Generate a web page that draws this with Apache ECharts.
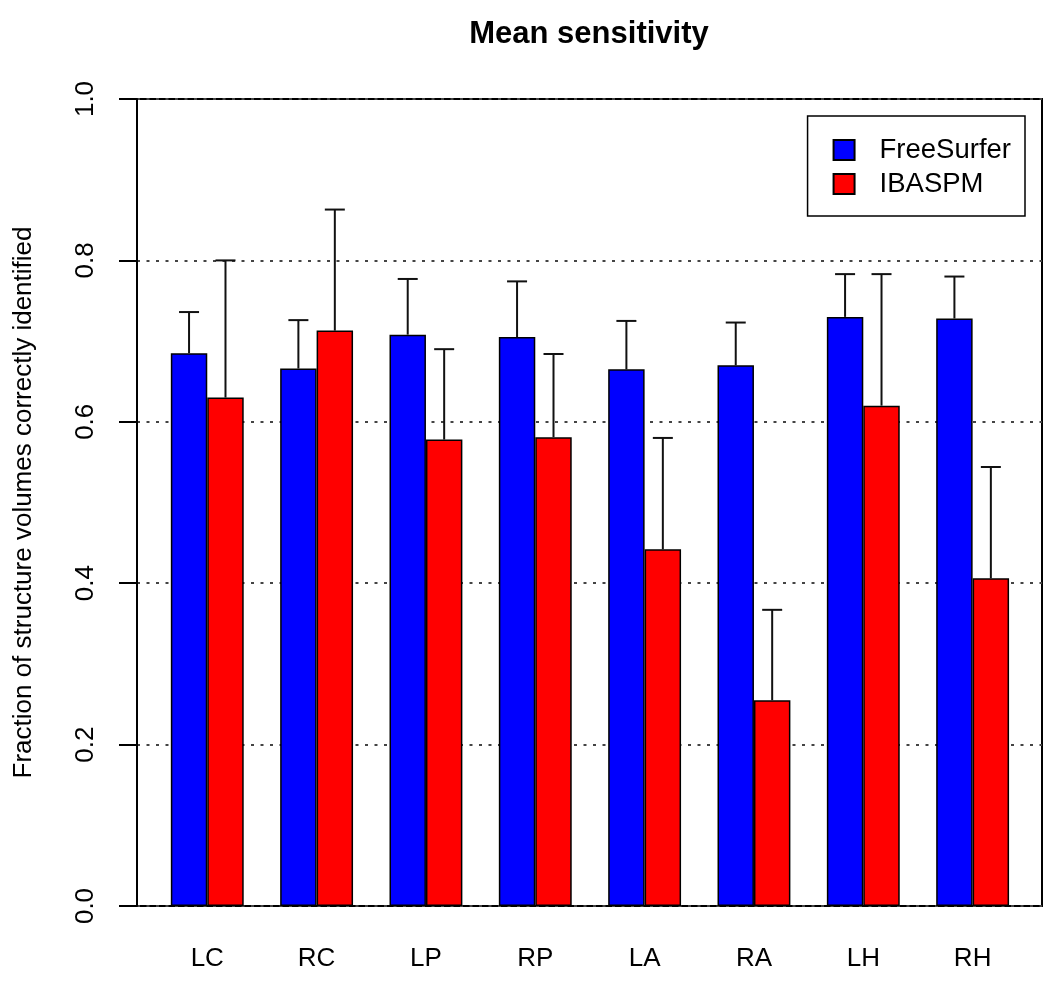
<!DOCTYPE html>
<html>
<head>
<meta charset="utf-8">
<script src="https://cdn.jsdelivr.net/npm/echarts@6/dist/echarts.min.js"></script>
<style>
  html, body { margin: 0; padding: 0; background: #fff; }
  #chart { width: 1050px; height: 999px; }
</style>
</head>
<body>
<div id="chart"></div>
<script>
// structures
const categories = ["LC", "RC", "LP", "RP", "LA", "RA", "LH", "RH"];
// mean fraction correctly identified
const freeSurfer = [0.685, 0.666, 0.708, 0.705, 0.665, 0.670, 0.730, 0.728];
const ibaspm = [0.630, 0.713, 0.578, 0.581, 0.442, 0.255, 0.620, 0.406];
// standard deviation (drawn upward only)
const freeSurferSd = [0.051, 0.060, 0.069, 0.069, 0.060, 0.053, 0.053, 0.052];
const ibaspmSd = [0.170, 0.150, 0.112, 0.103, 0.138, 0.112, 0.163, 0.138];
const yTicks = [0, 0.2, 0.4, 0.6, 0.8, 1.0];

const font = "Liberation Sans, Arial, Helvetica, sans-serif";

// error bar rows: [category index, mean, sd, side(-1 blue / +1 red)]
const errRows = [];
categories.forEach(function (c, i) {
  errRows.push([i, freeSurfer[i], freeSurferSd[i], -1]);
  errRows.push([i, ibaspm[i], ibaspmSd[i], 1]);
});

function renderErr(params, api) {
  const i = api.value(0), m = api.value(1), s = api.value(2), side = api.value(3);
  const band = api.size([1, 0])[0];
  const off = side * band / 6;
  const p0 = api.coord([i, m]);
  const p1 = api.coord([i, m + s]);
  const x = p0[0] + off;
  const st = { stroke: "#111", lineWidth: 2 };
  return {
    type: "group",
    children: [
      { type: "line", shape: { x1: x, y1: p0[1], x2: x, y2: p1[1] }, style: st },
      { type: "line", shape: { x1: x - 10, y1: p1[1], x2: x + 10, y2: p1[1] }, style: st }
    ]
  };
}

const chart = echarts.init(document.getElementById("chart"));
chart.setOption({
  animation: false,
  backgroundColor: "#fff",
  textStyle: { fontFamily: font },
  title: {
    text: "Mean sensitivity",
    left: 589,
    textAlign: "center",
    top: 19,
    padding: 0,
    textStyle: { fontFamily: font, fontSize: 31, fontWeight: "bold", color: "#000" }
  },
  legend: {
    data: ["FreeSurfer", "IBASPM"],
    orient: "vertical",
    right: 25,
    top: 116,
    icon: "rect",
    itemWidth: 21,
    itemHeight: 20,
    itemGap: 6,
    padding: [20, 14, 18, 25],
    borderColor: "#000",
    borderWidth: 1.5,
    textStyle: { fontFamily: font, fontSize: 27.5, color: "#000", lineHeight: 28, padding: [0, 0, 0, 20] }
  },
  grid: [
    // frame + y axis
    { left: 137, right: 8, top: 99, bottom: 93, show: true, borderColor: "#000", borderWidth: 2, backgroundColor: "transparent" },
    // bars
    { left: 152.6, right: 22.7, top: 99, bottom: 93 }
  ],
  xAxis: [
    { gridIndex: 0, type: "value", min: 0, max: 1, show: false },
    {
      gridIndex: 1,
      type: "category",
      data: categories,
      axisLine: { show: false },
      axisTick: { show: false },
      axisLabel: { fontFamily: font, fontSize: 26, color: "#000", margin: 40 }
    }
  ],
  yAxis: [
    {
      gridIndex: 0,
      type: "value",
      min: yTicks[0],
      max: yTicks[yTicks.length - 1],
      interval: 0.2,
      name: "Fraction of structure volumes correctly identified",
      nameLocation: "middle",
      nameRotate: 90,
      nameGap: 100,
      nameTextStyle: { fontFamily: font, fontSize: 26, color: "#000" },
      axisLine: { show: true, lineStyle: { color: "#000", width: 2 } },
      axisTick: { show: true, length: 18, lineStyle: { color: "#000", width: 2 } },
      axisLabel: {
        rotate: 90,
        margin: 38,
        fontFamily: font,
        fontSize: 26,
        color: "#000",
        formatter: function (v) { return v.toFixed(1); }
      },
      splitLine: { show: true, lineStyle: { color: "#444", width: 2, type: [3, 6.5] } }
    },
    { gridIndex: 1, type: "value", min: 0, max: 1, show: false }
  ],
  series: [
    {
      name: "FreeSurfer",
      type: "bar",
      xAxisIndex: 1,
      yAxisIndex: 1,
      data: freeSurfer,
      barWidth: "33.33%",
      barGap: "0%",
      itemStyle: { color: "#0000FF", borderColor: "#000", borderWidth: 1.5 }
    },
    {
      name: "IBASPM",
      type: "bar",
      xAxisIndex: 1,
      yAxisIndex: 1,
      data: ibaspm,
      barWidth: "33.33%",
      barGap: "0%",
      itemStyle: { color: "#FF0000", borderColor: "#000", borderWidth: 1.5 }
    },
    {
      name: "sd",
      type: "custom",
      xAxisIndex: 1,
      yAxisIndex: 1,
      z: 5,
      data: errRows,
      renderItem: renderErr
    }
  ]
});
</script>
</body>
</html>
